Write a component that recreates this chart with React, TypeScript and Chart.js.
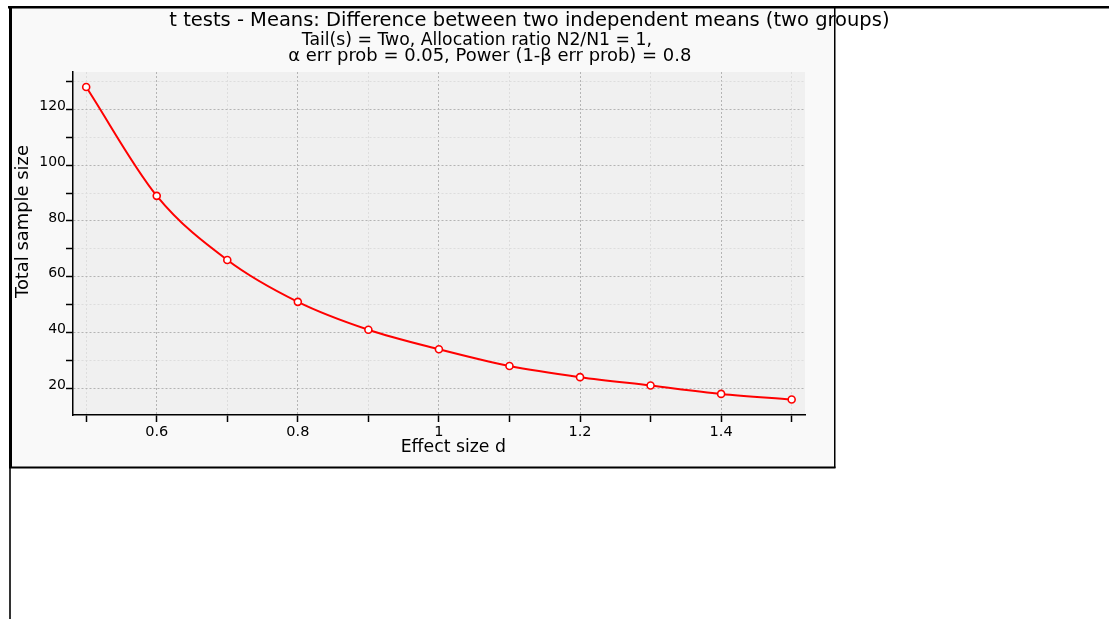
import { useEffect, useRef } from "react";
import { Chart, registerables } from "chart.js";

Chart.register(...registerables);

// ---- data ----
const effectSizes = [0.5, 0.6, 0.7, 0.8, 0.9, 1.0, 1.1, 1.2, 1.3, 1.4, 1.5];
const totalSampleSize = [128, 89, 66, 51, 41, 34, 28, 24, 21, 18, 16];

const xTickValues = [0.5, 0.6, 0.7, 0.8, 0.9, 1.0, 1.1, 1.2, 1.3, 1.4, 1.5];
const xTickLabels = ["", "0.6", "", "0.8", "", "1", "", "1.2", "", "1.4", ""];
const yTickValues = [20, 30, 40, 50, 60, 70, 80, 90, 100, 110, 120, 130];
const yTickLabels = ["20", "", "40", "", "60", "", "80", "", "100", "", "120", ""];

const titleText = "t tests - Means: Difference between two independent means (two groups)";
const subtitleLine1 = "Tail(s) = Two, Allocation ratio N2/N1 = 1,";
const subtitleLine2 = "α err prob = 0.05, Power (1-β err prob) = 0.8";
const xAxisTitle = "Effect size d";
const yAxisTitle = "Total sample size";

const FONT = '"DejaVu Sans", "Liberation Sans", sans-serif';

const findLabel = (values: number[], labels: string[], v: number) => {
  const i = values.findIndex((t) => Math.abs(t - v) < 1e-6);
  return i >= 0 ? labels[i] : "";
};

const drawFitted = (
  ctx: CanvasRenderingContext2D,
  text: string,
  x: number,
  y: number,
  width: number
) => {
  ctx.font = `100px ${FONT}`;
  const w = ctx.measureText(text).width;
  const size = (100 * width) / w;
  ctx.font = `${size}px ${FONT}`;
  ctx.fillText(text, x, y);
};

const framePlugin = {
  id: "gpowerFrame",
  beforeDraw(chart: any) {
    const ctx: CanvasRenderingContext2D = chart.ctx;
    const a = chart.chartArea;
    ctx.save();
    ctx.fillStyle = "#f9f9f9";
    ctx.fillRect(9, 8, 826, 459);
    ctx.fillStyle = "#f0f0f0";
    ctx.fillRect(a.left, a.top, a.right - a.left, a.bottom - a.top);
    ctx.restore();
  },
  afterDraw(chart: any) {
    const ctx: CanvasRenderingContext2D = chart.ctx;
    ctx.save();
    ctx.fillStyle = "#000";
    ctx.textAlign = "left";
    ctx.textBaseline = "alphabetic";
    drawFitted(ctx, titleText, 169.3, 25.5, 720.7);
    drawFitted(ctx, subtitleLine1, 301.7, 45, 350.6);
    drawFitted(ctx, subtitleLine2, 288.3, 60.5, 403.4);
    drawFitted(ctx, xAxisTitle, 400.7, 452.3, 105.3);
    ctx.save();
    ctx.translate(27.5, 298);
    ctx.rotate(-Math.PI / 2);
    drawFitted(ctx, yAxisTitle, 0, 0, 153);
    ctx.restore();

    // outer frame
    ctx.fillStyle = "#000";
    ctx.fillRect(8, 6, 1101, 2.5);
    ctx.fillStyle = "#333";
    ctx.fillRect(9, 8, 2, 611);
    // panel border
    ctx.fillStyle = "#000";
    ctx.fillRect(9, 8, 3, 460);
    ctx.fillRect(834, 8, 1.5, 460);
    ctx.fillRect(9, 466.5, 826.5, 2);
    ctx.restore();
  },
};

export default function App() {
  const canvasRef = useRef<HTMLCanvasElement | null>(null);

  useEffect(() => {
    if (!canvasRef.current) return;
    const chart = new Chart(canvasRef.current, {
      type: "line",
      data: {
        datasets: [
          {
            data: effectSizes.map((x, i) => ({ x, y: totalSampleSize[i] })),
            borderColor: "#ff0000",
            borderWidth: 2,
            pointRadius: 3.5,
            pointBorderWidth: 1.6,
            pointBackgroundColor: "#ffffff",
            pointBorderColor: "#ff0000",
            cubicInterpolationMode: "monotone",
            fill: false,
          },
        ],
      },
      options: {
        responsive: false,
        animation: false,
        devicePixelRatio: 1,
        layout: { padding: { left: 0, top: 72, right: 304, bottom: 174 } },
        plugins: {
          legend: { display: false },
          title: { display: false },
          tooltip: { enabled: false },
        },
        scales: {
          x: {
            type: "linear",
            min: 0.4813,
            max: 1.5189,
            afterBuildTicks: (s: any) => {
              s.ticks = xTickValues.map((v) => ({ value: v }));
            },
            afterFit: (s: any) => {
              s.height = 30;
            },
            ticks: {
              autoSkip: false,
              maxRotation: 0,
              padding: 2,
              color: "#000",
              font: { family: FONT, size: 14.5 },
              callback: (v: any) => findLabel(xTickValues, xTickLabels, Number(v)),
            },
            grid: {
              color: (c: any) =>
                findLabel(xTickValues, xTickLabels, c.tick?.value) ? "#b4b4b4" : "#dddddd",
              lineWidth: 1,
              tickLength: 7,
              tickColor: "#000",
              tickWidth: 1.5,
              tickBorderDash: [],
            },
            border: { display: true, color: "#000", width: 1.5, dash: [2, 2] },
          },
          y: {
            type: "linear",
            min: 10.43,
            max: 133.4,
            afterBuildTicks: (s: any) => {
              s.ticks = yTickValues.map((v) => ({ value: v }));
            },
            afterFit: (s: any) => {
              s.width = 73;
            },
            ticks: {
              autoSkip: false,
              padding: 0,
              labelOffset: -3,
              color: "#000",
              font: { family: FONT, size: 14 },
              callback: (v: any) => findLabel(yTickValues, yTickLabels, Number(v)),
            },
            grid: {
              color: (c: any) =>
                findLabel(yTickValues, yTickLabels, c.tick?.value) ? "#b4b4b4" : "#dddddd",
              lineWidth: 1,
              tickLength: 7,
              tickColor: "#000",
              tickWidth: 1.5,
              tickBorderDash: [],
            },
            border: { display: true, color: "#000", width: 1.5, dash: [2, 2] },
          },
        },
      } as any,
      plugins: [framePlugin],
    });
    return () => chart.destroy();
  }, []);

  return (
    <canvas
      ref={canvasRef}
      width={1109}
      height={619}
      style={{ position: "absolute", left: 0, top: 0, display: "block" }}
    />
  );
}
